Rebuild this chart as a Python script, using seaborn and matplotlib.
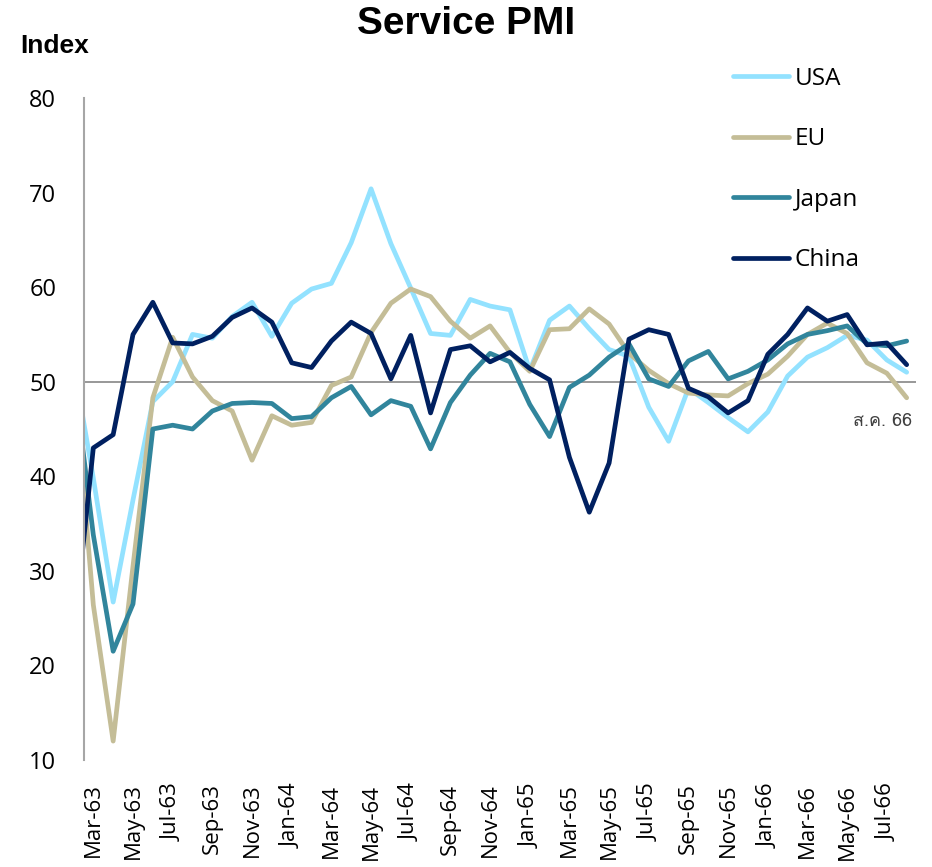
import numpy as np
import pandas as pd
import matplotlib
matplotlib.use("Agg")
import matplotlib.pyplot as plt
import seaborn as sns
from matplotlib import font_manager, ft2font

# months in Thai Buddhist year (Feb-63 sits just left of the axis and is clipped)
months = ['Feb-63', 'Mar-63', 'Apr-63', 'May-63', 'Jun-63', 'Jul-63', 'Aug-63', 'Sep-63', 'Oct-63', 'Nov-63', 'Dec-63',
          'Jan-64', 'Feb-64', 'Mar-64', 'Apr-64', 'May-64', 'Jun-64', 'Jul-64', 'Aug-64', 'Sep-64', 'Oct-64', 'Nov-64', 'Dec-64',
          'Jan-65', 'Feb-65', 'Mar-65', 'Apr-65', 'May-65', 'Jun-65', 'Jul-65', 'Aug-65', 'Sep-65', 'Oct-65', 'Nov-65', 'Dec-65',
          'Jan-66', 'Feb-66', 'Mar-66', 'Apr-66', 'May-66', 'Jun-66', 'Jul-66', 'Aug-66']

usa = [52.0, 39.8, 26.7, 37.5, 47.9, 50.0, 55.0, 54.6, 56.9, 58.4, 54.8,
       58.3, 59.8, 60.4, 64.7, 70.4, 64.6, 59.9, 55.1, 54.9, 58.7, 58.0, 57.6,
       51.2, 56.5, 58.0, 55.6, 53.4, 52.7, 47.3, 43.7, 49.3, 47.8, 46.2, 44.7,
       46.8, 50.6, 52.6, 53.6, 54.9, 54.4, 52.3, 51.0]
eu = [51.5, 26.4, 12.0, 30.5, 48.3, 54.7, 50.5, 48.0, 46.9, 41.7, 46.4,
      45.4, 45.7, 49.6, 50.5, 55.2, 58.3, 59.8, 59.0, 56.4, 54.6, 55.9, 53.1,
      51.1, 55.5, 55.6, 57.7, 56.1, 53.0, 51.2, 49.8, 48.8, 48.6, 48.5, 49.8,
      50.8, 52.7, 55.0, 56.2, 55.1, 52.0, 50.9, 48.3]
japan = [51.0, 33.8, 21.5, 26.5, 45.0, 45.4, 45.0, 46.9, 47.7, 47.8, 47.7,
         46.1, 46.3, 48.3, 49.5, 46.5, 48.0, 47.4, 42.9, 47.8, 50.7, 53.0, 52.1,
         47.6, 44.2, 49.4, 50.7, 52.6, 54.0, 50.3, 49.5, 52.2, 53.2, 50.3, 51.1,
         52.3, 54.0, 55.0, 55.4, 55.9, 54.0, 53.8, 54.3]
china = [23.0, 43.0, 44.4, 55.0, 58.4, 54.1, 54.0, 54.8, 56.8, 57.8, 56.3,
         52.0, 51.5, 54.3, 56.3, 55.1, 50.3, 54.9, 46.7, 53.4, 53.8, 52.1, 53.1,
         51.4, 50.2, 42.0, 36.2, 41.4, 54.5, 55.5, 55.0, 49.3, 48.4, 46.7, 48.0,
         52.9, 55.0, 57.8, 56.4, 57.1, 53.9, 54.1, 51.8]

countries = ['USA', 'EU', 'Japan', 'China']
colors = {'USA': '#93E2FF', 'EU': '#C4BD97', 'Japan': '#31859C', 'China': '#002060'}

pos = np.arange(len(months)) - 1
df = pd.DataFrame({'pos': np.tile(pos, 4),
                   'PMI': usa + eu + japan + china,
                   'Country': np.repeat(countries, len(months))})

sns.set_theme(style='white')
plt.rcParams['font.family'] = ['Open Sans', 'DejaVu Sans']
plt.rcParams['text.color'] = 'black'

# find a font that has Thai glyphs for the date note
thai = []
for f in font_manager.fontManager.ttflist:
    try:
        if 0x0E2A in ft2font.FT2Font(f.fname).get_charmap():
            thai.append(f.name)
    except Exception:
        pass

fig = plt.figure(figsize=(9.32, 8.67), dpi=100)
ax = fig.add_axes([84 / 932, 1 - 760 / 867, (916 - 84) / 932, (760 - 98) / 867])

sns.lineplot(data=df, x='pos', y='PMI', hue='Country', hue_order=countries, palette=colors,
             linewidth=3.4, ax=ax, solid_joinstyle='round', solid_capstyle='round')

ax.set_xlim(-0.47, 41.47)
ax.set_ylim(10, 80)
ax.set_yticks(range(10, 81, 10))
ax.set_xticks(pos[1::2])
ax.set_xticklabels(months[1::2], rotation=90)
ax.tick_params(axis='y', length=0, pad=20, labelsize=17, colors='black')
ax.tick_params(axis='x', length=0, pad=17, labelsize=16, colors='black')
ax.set_xlabel('')
ax.set_ylabel('')
for s in ['top', 'right', 'bottom']:
    ax.spines[s].set_visible(False)
ax.spines['left'].set_color('#A6A6A6')
ax.spines['left'].set_linewidth(1.5)
ax.axhline(50, color='#868686', lw=1.2, zorder=1)

handles, labels = ax.get_legend_handles_labels()
leg = ax.legend(handles, labels, loc='upper left', bbox_to_anchor=(733 / 932, 1 - 67 / 867),
                bbox_transform=fig.transFigure, frameon=False, fontsize=17.5,
                handlelength=2.3, handletextpad=0.25, labelspacing=1.5, borderpad=0, borderaxespad=0)
for t in leg.get_texts():
    t.set_color('black')

fig.text(0.5, 1 - 24 / 867, 'Service PMI', ha='center', va='center', fontsize=28, color='black',
         fontweight='bold', family=['Liberation Sans Narrow', 'Liberation Sans', 'DejaVu Sans'])
fig.text(20 / 932, 1 - 46 / 867, 'Index', ha='left', va='center', fontsize=19, color='black',
         fontweight='bold', family=['Liberation Sans Narrow', 'Liberation Sans', 'DejaVu Sans'])
fig.text(912 / 932, 1 - 421 / 867, 'ส.ค. 66', ha='right', va='center', fontsize=13,
         color='#404040', family=thai[:1] + ['DejaVu Sans'])

fig.savefig('out.png', dpi=100)
